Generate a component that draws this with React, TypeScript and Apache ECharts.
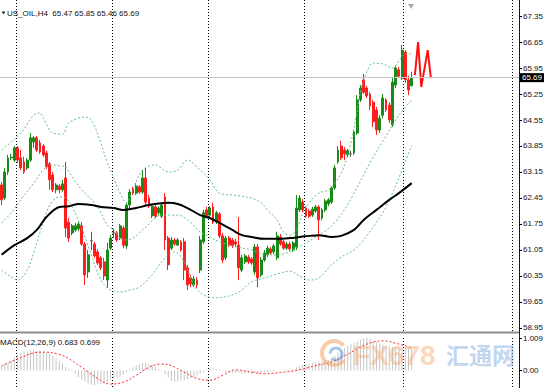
import React, { useEffect, useRef } from "react";
import * as echarts from "echarts";

const SLOT_COUNT = 162;
const categories = Array.from({ length: SLOT_COUNT }, (_, i) => `b${i}`);
const separatorSlots = [5, 35, 65, 95, 126, 160];
const priceTicks = [58.95, 59.65, 60.35, 61.05, 61.75, 62.45, 63.15, 63.85, 64.55, 65.25, 65.95, 66.65, 67.35];
const macdTicks = [-0.648, 0, 1.009];
const currentPrice = 65.69;

// [open, close, low, high]
const candles: number[][] = [
  [62.80, 62.40, 62.26, 62.88], [62.45, 63.15, 62.40, 63.26], [63.15, 63.53, 63.07, 63.61], [63.53, 63.55, 63.47, 63.64],
  [63.47, 63.80, 63.42, 63.85], [63.80, 63.47, 63.39, 63.85], [63.53, 63.26, 63.20, 63.74], [63.42, 63.15, 63.10, 63.56],
  [63.26, 63.47, 63.20, 63.53], [63.47, 64.07, 63.42, 64.20], [63.96, 64.07, 63.80, 64.12], [64.07, 63.74, 63.69, 64.12],
  [63.93, 63.69, 63.64, 64.01], [63.85, 63.61, 63.56, 63.90], [63.66, 63.29, 63.23, 63.72], [63.37, 62.94, 62.67, 63.42],
  [63.07, 62.67, 62.61, 63.15], [62.67, 62.80, 62.58, 62.85], [62.77, 62.67, 62.58, 62.83], [62.67, 62.83, 62.61, 62.94],
  [62.99, 61.64, 61.40, 63.42], [61.80, 61.37, 61.27, 61.91], [61.51, 61.70, 61.45, 61.75], [61.59, 61.70, 61.54, 61.78],
  [61.62, 61.75, 61.56, 61.80], [61.70, 61.21, 61.16, 61.80], [61.21, 60.38, 60.11, 61.27], [60.46, 60.92, 60.30, 61.05],
  [61.30, 61.30, 61.05, 61.54], [61.21, 60.89, 60.84, 61.27], [61.00, 60.70, 60.65, 61.08], [60.84, 60.57, 60.51, 60.89],
  [60.73, 60.35, 60.24, 60.84], [60.24, 61.05, 60.03, 61.24], [61.10, 61.37, 61.05, 61.45], [61.51, 61.51, 61.37, 61.62],
  [61.51, 61.32, 61.27, 61.56], [61.37, 61.70, 61.32, 61.75], [61.64, 61.18, 61.10, 61.70], [61.16, 62.26, 61.08, 62.32],
  [62.26, 62.61, 62.18, 62.69], [62.69, 62.58, 62.53, 62.75], [62.58, 62.77, 62.53, 62.85], [62.75, 62.61, 62.56, 62.80],
  [62.61, 62.99, 62.56, 63.20], [62.99, 62.34, 62.26, 63.26], [62.45, 62.23, 62.18, 62.53], [61.97, 62.23, 61.91, 62.29],
  [62.21, 61.96, 61.91, 62.26], [62.05, 62.18, 61.99, 62.23], [61.96, 62.26, 61.91, 62.32], [62.48, 61.32, 61.05, 62.58],
  [61.37, 60.65, 60.51, 61.43], [61.10, 61.32, 61.05, 61.40], [61.32, 61.21, 61.16, 61.37], [61.18, 61.32, 61.16, 61.37],
  [61.27, 61.05, 61.00, 61.32], [61.27, 60.51, 60.24, 61.37], [60.57, 60.11, 59.97, 60.65], [60.30, 60.14, 60.05, 60.38],
  [60.11, 60.27, 60.05, 60.35], [60.24, 60.11, 60.03, 60.32], [60.51, 61.32, 60.43, 61.43], [61.27, 62.05, 61.21, 62.13],
  [62.13, 61.96, 61.91, 62.21], [61.99, 62.18, 61.94, 62.23], [62.21, 61.80, 61.75, 62.32], [61.80, 62.05, 61.75, 62.10],
  [62.02, 61.43, 61.37, 62.07], [61.43, 60.78, 60.70, 61.51], [60.84, 61.37, 60.78, 61.43], [61.37, 61.18, 61.13, 61.43],
  [61.32, 61.16, 61.10, 61.37], [61.27, 61.21, 61.13, 61.35], [61.18, 60.57, 60.24, 61.94], [60.51, 60.84, 60.46, 60.92],
  [60.73, 60.89, 60.67, 60.94], [60.86, 60.73, 60.67, 60.92], [60.81, 60.70, 60.65, 60.86], [60.46, 61.13, 60.38, 61.21],
  [61.13, 60.30, 60.05, 61.21], [60.38, 60.78, 60.32, 60.86], [60.78, 60.97, 60.73, 61.05], [60.92, 61.10, 60.86, 61.16],
  [61.08, 60.97, 60.92, 61.13], [61.00, 61.16, 60.94, 61.21], [60.84, 61.43, 60.78, 61.54], [61.40, 61.21, 61.16, 61.48],
  [61.27, 61.10, 61.05, 61.32], [61.10, 61.21, 61.05, 61.27], [61.21, 61.08, 61.02, 61.27], [61.05, 61.24, 61.00, 61.29],
  [61.13, 62.18, 61.05, 62.53], [62.13, 62.45, 62.07, 62.53], [62.34, 62.13, 62.07, 62.42], [62.18, 61.96, 61.91, 62.23],
  [62.10, 61.96, 61.91, 62.15], [61.99, 62.15, 61.94, 62.21], [62.10, 62.21, 62.05, 62.26], [62.21, 61.86, 61.32, 62.26],
  [61.91, 62.13, 61.86, 62.18], [62.13, 62.37, 62.07, 62.42], [62.29, 62.40, 62.23, 62.45], [62.34, 62.72, 62.29, 62.77],
  [62.72, 63.26, 62.67, 63.34], [63.42, 63.74, 63.37, 63.85], [63.85, 63.53, 63.47, 63.99], [63.74, 63.64, 63.47, 63.82],
  [63.61, 63.72, 63.56, 63.77], [63.64, 63.64, 63.56, 63.72], [63.66, 64.23, 63.61, 64.28], [64.20, 65.09, 64.15, 65.22],
  [65.09, 65.41, 65.04, 65.49], [65.63, 65.30, 65.25, 65.79], [65.41, 65.20, 65.14, 65.47], [65.25, 64.93, 64.82, 65.30],
  [65.03, 64.50, 64.36, 65.09], [64.82, 64.28, 64.15, 64.90], [64.28, 64.60, 64.20, 64.68], [64.68, 65.14, 64.60, 65.25],
  [65.09, 64.82, 64.77, 65.14], [64.95, 64.55, 64.47, 65.03], [64.42, 65.57, 64.36, 65.68], [65.49, 65.95, 65.41, 66.00],
  [65.90, 65.73, 65.68, 65.98], [65.68, 66.43, 65.63, 66.57], [66.38, 65.63, 65.55, 66.43], [65.63, 65.36, 65.22, 65.74],
  [65.47, 65.69, 65.46, 65.85],
];

const maPoints = [
  [0, 60.92], [4, 61.18], [8, 61.37], [11, 61.59], [14, 61.94], [18, 62.21], [21, 62.23], [24, 62.29], [28, 62.26],
  [31, 62.21], [35, 62.18], [38, 62.13], [42, 62.18], [46, 62.26], [52, 62.32], [55, 62.29], [58, 62.18], [62, 61.99],
  [65, 61.91], [68, 61.78], [72, 61.59], [75, 61.45], [78, 61.40], [82, 61.35], [86, 61.35], [90, 61.37], [93, 61.40],
  [96, 61.43], [99, 61.45], [103, 61.40], [106, 61.43], [110, 61.59], [113, 61.86], [117, 62.13], [121, 62.40],
  [124, 62.58], [128, 62.85],
];

const bbUpper = [
  [0, 63.74], [6, 64.20], [10, 64.68], [12, 64.74], [13, 64.60], [16, 64.20], [19, 64.17], [21, 64.47], [26, 64.63],
  [28, 64.55], [31, 63.93], [33, 63.39], [34, 63.20], [37, 62.58], [39, 62.32], [41, 62.67], [44, 63.20], [48, 63.34],
  [52, 63.15], [55, 63.20], [58, 63.47], [62, 63.20], [65, 62.94], [68, 62.58], [72, 62.53], [78, 62.45], [81, 62.32],
  [83, 62.13], [86, 61.86], [88, 61.54], [90, 61.45], [92, 61.59], [94, 62.05], [96, 62.32], [99, 62.58], [102, 62.67],
  [106, 63.12], [109, 63.93], [111, 64.82], [112, 65.30], [114, 65.84], [116, 66.08], [119, 66.06], [122, 65.95],
  [124, 66.14], [126, 66.33], [128, 66.33],
];

const bbMiddle = [
  [0, 61.78], [3, 62.05], [6, 62.40], [10, 62.85], [13, 63.20], [15, 63.34], [19, 63.31], [20, 63.29], [22, 63.02],
  [25, 62.67], [29, 62.32], [31, 62.05], [33, 61.72], [35, 61.59], [38, 61.32], [41, 61.37], [45, 61.67], [50, 61.99],
  [55, 61.99], [58, 61.86], [62, 61.54], [65, 61.40], [68, 61.27], [72, 61.16], [78, 61.05], [83, 60.92], [86, 60.92],
  [89, 60.97], [92, 61.10], [95, 61.24], [99, 61.45], [103, 61.70], [107, 62.13], [110, 62.58], [113, 63.07],
  [116, 63.55], [120, 64.12], [124, 64.68], [128, 65.09],
];

const bbLower = [
  [0, 60.51], [3, 60.32], [5, 60.24], [8, 60.51], [10, 60.97], [12, 61.53], [15, 62.26], [18, 62.48], [20, 62.45],
  [22, 62.21], [25, 61.64], [28, 60.92], [31, 60.24], [34, 59.97], [37, 59.92], [40, 59.97], [43, 60.05], [47, 60.38],
  [50, 60.73], [54, 61.00], [57, 60.73], [60, 60.11], [63, 59.84], [67, 59.76], [72, 59.84], [75, 59.97], [78, 60.19],
  [83, 60.32], [87, 60.43], [90, 60.48], [93, 60.35], [96, 60.24], [99, 60.30], [103, 60.65], [106, 60.86],
  [110, 61.05], [113, 61.32], [117, 61.80], [120, 62.21], [124, 62.99], [128, 63.87],
];

const zigzag = [[129, 65.76], [130, 66.65], [131, 65.44], [133, 66.43], [134, 65.68]];

const macdHist = [
  0.15, 0.2, 0.25, 0.3,
  0.4, 0.5, 0.55, 0.58, 0.6, 0.62,
  0.62, 0.6, 0.6, 0.58, 0.55, 0.5, 0.45,
  0.38, 0.3, 0.22, 0.12, 0.05, -0.02,
  -0.1, -0.2, -0.28, -0.35, -0.4, -0.45, -0.46, -0.42, -0.43, -0.4, -0.36, -0.3, -0.25,
  -0.22, -0.18, -0.12, -0.05, 0.03, 0.1, 0.16, 0.2, 0.23,
  0.24, 0.22, 0.18, 0.12, 0.05, -0.03, -0.12, -0.22,
  -0.32, -0.35, -0.34, -0.32, -0.3, -0.28, -0.25, -0.2, -0.15, -0.1,
  -0.05, 0.02, 0.05, 0.06, 0.05, 0.03, -0.02, -0.05, -0.06, -0.08, -0.07, -0.08, -0.1, -0.1,
  -0.09, -0.1, -0.08, -0.1, -0.08, -0.06, -0.05, -0.04, -0.03, -0.02, 0.0, 0.01, 0.02, 0.02,
  0.05, 0.1, 0.14, 0.18, 0.2, 0.22, 0.24, 0.26, 0.27, 0.28,
  0.3, 0.33, 0.38, 0.45, 0.55, 0.63, 0.7, 0.76, 0.82, 0.86,
  0.9, 0.96, 1.0, 1.009, 0.98, 0.93, 0.88, 0.84, 0.8, 0.77, 0.75, 0.73, 0.72, 0.71, 0.7, 0.69, 0.69, 0.683,
];

const macdSignal = [
  [0, 0.14], [6, 0.4], [12, 0.57], [18, 0.5], [25, 0.1], [30, -0.25], [34, -0.42], [38, -0.36], [42, -0.15],
  [46, 0.1], [50, 0.2], [53, 0.15], [57, -0.05], [61, -0.25], [65, -0.3], [69, -0.15], [73, 0.02], [78, -0.05],
  [82, -0.1], [87, -0.06], [92, 0.0], [98, 0.15], [103, 0.27], [108, 0.5], [113, 0.78], [119, 0.92], [124, 0.82],
  [128, 0.699],
];

const FONT = "'Liberation Sans', Arial, sans-serif";
const UP = "#178a17";
const DOWN = "#ff1e1e";
const BAND = "#63c184";

const last = candles[candles.length - 1];
const titleText = `US_OIL,H4  ${last[0].toFixed(2)} ${last[3].toFixed(2)} ${last[2].toFixed(2)} ${last[1].toFixed(2)}`;
const macdTitle = `MACD(12,26,9) ${macdHist[macdHist.length - 1].toFixed(3)} ${macdSignal[macdSignal.length - 1][1].toFixed(3)}`;

const sepLine = {
  show: true,
  interval: (i: number) => separatorSlots.includes(i),
  lineStyle: { color: "#000", width: 1, type: [1, 2] },
};

const bandSeries = (data: number[][]) => ({
  type: "line",
  xAxisIndex: 0,
  yAxisIndex: 0,
  data,
  smooth: 0.35,
  symbol: "none",
  silent: true,
  lineStyle: { color: BAND, width: 1, type: [2, 2] },
  z: 3,
});

const option: any = {
  animation: false,
  backgroundColor: "#ffffff",
  textStyle: { fontFamily: FONT },
  grid: [
    { left: 0, right: 27, top: 0, height: 333, outerBoundsMode: "none", containLabel: false },
    { left: 0, right: 27, top: 338, height: 53.4, outerBoundsMode: "none", containLabel: false },
  ],
  xAxis: [
    {
      type: "category", gridIndex: 0, data: categories, boundaryGap: true,
      axisLine: { show: false }, axisTick: { show: false }, axisLabel: { show: false }, splitLine: sepLine,
    },
    {
      type: "category", gridIndex: 1, data: categories, boundaryGap: true,
      axisLine: { show: false }, axisTick: { show: false }, axisLabel: { show: false }, splitLine: sepLine,
    },
  ],
  yAxis: [
    {
      type: "value", gridIndex: 0, position: "right", min: 58.815, max: 67.781, scale: true,
      splitLine: { show: false }, axisLine: { show: false },
      axisTick: { show: true, length: 3, customValues: priceTicks, lineStyle: { color: "#000" } },
      axisLabel: { customValues: priceTicks, formatter: (v: number) => v.toFixed(2), fontSize: 8, color: "#111", margin: 4, fontFamily: FONT },
    },
    {
      type: "value", gridIndex: 1, position: "right", min: -0.648, max: 1.009, scale: true,
      splitLine: { show: false }, axisLine: { show: false },
      axisTick: { show: true, length: 3, customValues: macdTicks, lineStyle: { color: "#000" } },
      axisLabel: {
        customValues: macdTicks,
        formatter: (v: number) => (Math.abs(v) < 1e-9 ? "0.00" : v.toFixed(3)),
        fontSize: 8, color: "#111", margin: 4, fontFamily: FONT,
      },
    },
  ],
  series: [
    {
      type: "candlestick",
      xAxisIndex: 0,
      yAxisIndex: 0,
      data: candles,
      barWidth: 2.4,
      itemStyle: {
        color: UP, color0: DOWN, borderColor: UP, borderColor0: DOWN, borderColorDoji: "#555", borderWidth: 1,
      },
      markLine: {
        silent: true,
        symbol: "none",
        data: [{ yAxis: currentPrice }],
        lineStyle: { color: "#c4c4c4", width: 1, type: "solid" },
        label: {
          show: true, position: "end", distance: 1, formatter: currentPrice.toFixed(2),
          color: "#fff", backgroundColor: "#000", padding: [1, 2, 0, 2], fontSize: 8, fontFamily: FONT,
        },
      },
      z: 2,
    },
    bandSeries(bbUpper),
    bandSeries(bbMiddle),
    bandSeries(bbLower),
    {
      type: "line", xAxisIndex: 0, yAxisIndex: 0, data: maPoints, smooth: 0.35, symbol: "none", silent: true,
      lineStyle: { color: "#000", width: 2 }, z: 4,
    },
    {
      type: "line", xAxisIndex: 0, yAxisIndex: 0, data: zigzag, symbol: "none", silent: true,
      lineStyle: { color: "#ff1010", width: 2 }, z: 4,
    },
    {
      type: "bar", xAxisIndex: 1, yAxisIndex: 1, data: macdHist, barWidth: 1, silent: true,
      itemStyle: { color: "#c4c4c4" },
    },
    {
      type: "line", xAxisIndex: 1, yAxisIndex: 1, data: macdSignal, smooth: 0.4, symbol: "none", silent: true,
      lineStyle: { color: "#ff2a2a", width: 1, type: [2, 2] }, z: 4,
    },
  ],
  graphic: [
    { type: "line", shape: { x1: 519.5, y1: 0, x2: 519.5, y2: 388 }, style: { stroke: "#222", lineWidth: 1 }, silent: true },
    { type: "rect", shape: { x: 0, y: 331.5, width: 519, height: 2 }, style: { fill: "#8c8c8c" }, silent: true },
    { type: "polygon", shape: { points: [[1.5, 11.5], [5.5, 11.5], [3.5, 14.5]] }, style: { fill: "#333" }, silent: true },
    { type: "polygon", shape: { points: [[408, 4], [414, 4], [411, 9]] }, style: { fill: "#a8a8a8" }, silent: true },
    {
      type: "text", left: 7, top: 9, silent: true,
      style: { text: titleText, fontSize: 8, fill: "#111", fontFamily: FONT },
    },
    {
      type: "text", left: 0, top: 338, silent: true, z: 10,
      style: { text: macdTitle, fontSize: 8, fill: "#111", fontFamily: FONT },
    },
    {
      type: "arc", silent: true, z: 20,
      shape: { cx: 334, cy: 353, r: 12, startAngle: 0.6, endAngle: 5.6 },
      style: { stroke: "rgba(244,160,96,0.55)", lineWidth: 4, fill: "none" },
    },
    {
      type: "arc", silent: true, z: 20,
      shape: { cx: 336, cy: 354, r: 6, startAngle: 3.2, endAngle: 8.6 },
      style: { stroke: "rgba(110,160,215,0.6)", lineWidth: 3, fill: "none" },
    },
    {
      type: "text", left: 353, top: 341, silent: true, z: 20,
      style: { text: "FX678", fontSize: 28, fontWeight: "bold", fontFamily: FONT, fill: "rgba(246,176,124,0.5)" },
    },
    {
      type: "text", left: 446, top: 342, silent: true, z: 20,
      style: { text: "汇通网", fontSize: 23, fontWeight: "bold", fontFamily: "'Noto Sans CJK SC'", fill: "rgba(130,172,222,0.5)" },
    },
  ],
};

export default function App() {
  const ref = useRef<HTMLDivElement>(null);
  useEffect(() => {
    if (!ref.current) return;
    const chart = echarts.init(ref.current, undefined, { renderer: "svg" });
    chart.setOption(option);
    return () => chart.dispose();
  }, []);
  return (
    <div
      ref={ref}
      style={{ position: "fixed", left: 0, top: 0, width: 546, height: 388, background: "#fff" }}
    />
  );
}
